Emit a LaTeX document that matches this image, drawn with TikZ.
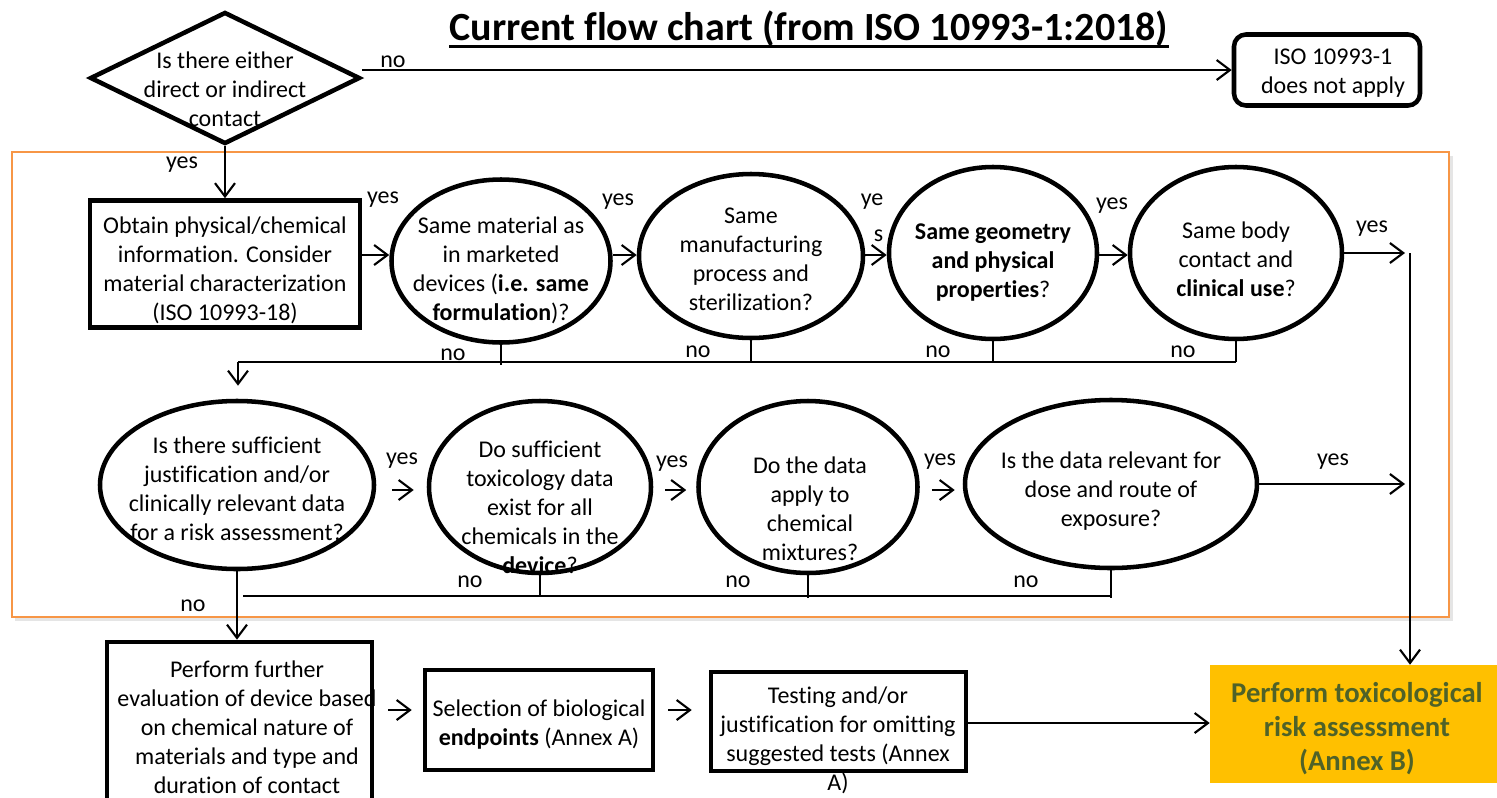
\documentclass[tikz,border=0pt]{standalone}
\usepackage{fontspec}
\setmainfont{Carlito}[Ligatures=NoCommon]
\usetikzlibrary{shapes.geometric,arrows.meta,calc}
\definecolor{frameorange}{RGB}{247,150,70}
\definecolor{annexgold}{RGB}{255,192,0}
\definecolor{annexolive}{RGB}{79,98,40}
\tikzset{
  sz/.style 2 args={minimum width=#1*0.75pt, minimum height=#2*0.75pt},
  txt/.style={align=center, inner sep=0pt, font=\fontsize{18}{21.75}\selectfont},
  lbl/.style={inner sep=0pt, font=\fontsize{18}{20}\selectfont},
  stepbox/.style={draw, line width=3.4pt, rectangle, inner sep=0pt},
  decision/.style={draw, line width=3.4pt, ellipse, inner sep=0pt},
  link/.style={line width=1.6pt},
  arr/.style={link, -{Straight Barb[length=10pt,width=15pt]}},
}
\begin{document}
\begin{tikzpicture}[x=0.75pt,y=-0.75pt]
\useasboundingbox (0,0) rectangle (1497,797);
\clip (0,0) rectangle (1497,797);

% title with a heavy underline
\node[inner sep=0pt, font=\fontsize{30}{34}\selectfont\bfseries] (title) at (809,29) {Current flow chart (from ISO 10993-1:2018)};
\draw[line width=2pt] ($(title.base west)+(0,6)$) -- ($(title.base east)+(0,6)$);

% shaded orange frame around the comparison steps
\fill[black!10] (15,156) rectangle (1453,621);
\draw[frameorange, line width=1.4pt, fill=white] (12,152) rectangle (1449,617);

% entry question and exit
\node[draw, diamond, line width=3.4pt, inner sep=0pt, sz={270}{132}] (dia) at (225,78) {};
\node[txt] (diat) at (225,89) {Is there either\\direct or indirect\\contact};
\node[draw, line width=3.4pt, rounded corners=9pt, inner sep=0pt, sz={186}{71}] (na) at (1327,70) {};
\node[txt] (nat) at (1333,73) {ISO 10993-1\\does not apply};

% first row
\node[stepbox, sz={270}{127}] (b1) at (225,264) {};
\node[txt] (b1t) at (225,270) {Obtain physical/chemical\\information. Consider\\material characterization\\(ISO 10993-18)};

\node[decision, sz={219}{163}] (c1) at (501,261) {};
\node[txt] (c1t) at (501,270) {Same material as\\in marketed\\devices (\textbf{i.e. same}\\\textbf{formulation})?};

\node[decision, sz={224}{164}] (c2) at (751,256) {};
\node[txt] (c2t) at (751,259) {Same\\manufacturing\\process and\\sterilization?};

\node[decision, sz={208}{172}] (c3) at (993,253) {};
\node[txt] (c3t) at (993,263) {\textbf{Same geometry}\\\textbf{and physical}\\\textbf{properties}?};

\node[decision, sz={212}{172}] (c4) at (1236,253) {};
\node[txt] (c4t) at (1236,259) {Same body\\contact and\\\textbf{clinical use}?};

% second row
\node[decision, sz={274}{168}] (e5) at (237,485) {};
\node[txt] (e5t) at (237,489) {Is there sufficient\\justification and/or\\clinically relevant data\\for a risk assessment?};

\node[decision, sz={222}{172}] (e6) at (540,487) {};
\node[txt] (e6t) at (540,507) {Do sufficient\\toxicology data\\exist for all\\chemicals in the\\\textbf{device}?};

\node[decision, sz={219}{172}] (e7) at (808,487) {};
\node[txt] (e7t) at (810,509) {Do the data\\apply to\\chemical\\mixtures?};

\node[decision, sz={292}{168}] (e8) at (1111,484) {};
\node[txt] (e8t) at (1111,491) {Is the data relevant for\\dose and route of\\exposure?};

% bottom row
\node[stepbox, sz={265}{168}] (b9) at (239.5,726) {};
\node[txt] (b9t) at (247,727) {Perform further\\evaluation of device based\\on chemical nature of\\materials and type and\\duration of contact};

\node[stepbox, sz={228}{100}] (b10) at (539,720) {};
\node[txt] (b10t) at (539,725) {Selection of biological\\\textbf{endpoints} (Annex A)};

\node[stepbox, sz={255}{99}] (b11) at (838.5,721.5) {};
\node[txt] (b11t) at (838,740) {Testing and/or\\justification for omitting\\suggested tests (Annex\\A)};

\node[fill=annexgold, inner sep=0pt, sz={287}{118}] (tra) at (1353.5,724) {};
\node[align=center, inner sep=0pt, text=annexolive, font=\fontsize{21.5}{25.5}\selectfont\bfseries] (trat) at (1357,729) {Perform toxicological\\risk assessment\\(Annex B)};

% junction points
\coordinate (r1) at (1410,253);
\coordinate (busA) at (238,362);
\coordinate (busB) at (243,596);

% connectors: top
\draw[arr] (dia.east |- na.west) -- (na.west);
\draw[arr] (dia.south) -- (b1.north);

% connectors: first row
\draw[arr] (b1.east |- 0,255) -- (c1.west |- 0,255);
\draw[arr] (c1.east |- 0,255) -- (c2.west |- 0,255);
\draw[arr] (c2.east |- 0,255) -- (c3.west |- 0,255);
\draw[arr] (c3.east |- 0,255) -- (c4.west |- 0,255);
\draw[arr, shorten >=5*0.75pt] (c4.east) -- (r1);
\draw[arr] (r1) -- (r1 |- tra.north);

\draw[link] (c1.south) -- ($(c1.south |- busA)+(0,3)$);
\draw[link] (c2.south) -- (c2.south |- busA);
\draw[link] (c3.south) -- (c3.south |- busA);
\draw[link] (c4.south) -- (c4.south |- busA);
\draw[link] (busA) -- (c4.south |- busA);
\draw[arr, shorten >=13*0.75pt] (busA) -- (busA |- e5.north);

% connectors: second row
\draw[arr, shorten <=16*0.75pt, shorten >=13*0.75pt] (e5.east |- 0,490) -- (e6.west |- 0,490);
\draw[arr, shorten <=12*0.75pt, shorten >=10*0.75pt] (e6.east |- 0,490) -- (e7.west |- 0,490);
\draw[arr, shorten <=12*0.75pt, shorten >=8*0.75pt] (e7.east |- 0,490) -- (e8.west |- 0,490);
\draw[arr, shorten >=5*0.75pt] (e8.east) -- (r1 |- e8.east);

\draw[arr] (e5.south) -- (e5.south |- b9.north);
\draw[link] (e6.south) -- (e6.south |- busB);
\draw[link] (e7.south) -- ($(e7.south |- busB)+(0,2)$);
\draw[link] (e8.south) -- ($(e8.south |- busB)+(0,2)$);
\draw[link] (busB) -- (e8.south |- busB);

% connectors: bottom row
\draw[arr, shorten <=14*0.75pt, shorten >=11*0.75pt] (b9.east |- 0,710) -- (b10.west |- 0,710);
\draw[arr, shorten <=13*0.75pt, shorten >=17*0.75pt] (b10.east |- 0,710) -- (b11.west |- 0,710);
\draw[arr] (b11.east |- 0,723) -- (tra.west |- 0,723);

% branch labels
\node[lbl] (l0) at (393,62) {no};
\node[lbl] (l1) at (182,165) {yes};
\node[lbl] (l2) at (383,200) {yes};
\node[lbl] (l3) at (618,202) {yes};
\node[lbl, align=right, font=\fontsize{18}{27}\selectfont] (l4) at (872,218) {ye\\s};
\node[lbl] (l5) at (1112,206) {yes};
\node[lbl] (l6) at (1372,229) {yes};
\node[lbl] (n1) at (453,355) {no};
\node[lbl] (n2) at (698,352) {no};
\node[lbl] (n3) at (938,352) {no};
\node[lbl] (n4) at (1183,352) {no};
\node[lbl] (l7) at (402,461) {yes};
\node[lbl] (l8) at (672,464) {yes};
\node[lbl] (l9) at (940,462) {yes};
\node[lbl] (l10) at (1333,462) {yes};
\node[lbl] (n5) at (470,582) {no};
\node[lbl] (n6) at (738,582) {no};
\node[lbl] (n7) at (1026,582) {no};
\node[lbl] (n8) at (193,606) {no};
\end{tikzpicture}
\end{document}
